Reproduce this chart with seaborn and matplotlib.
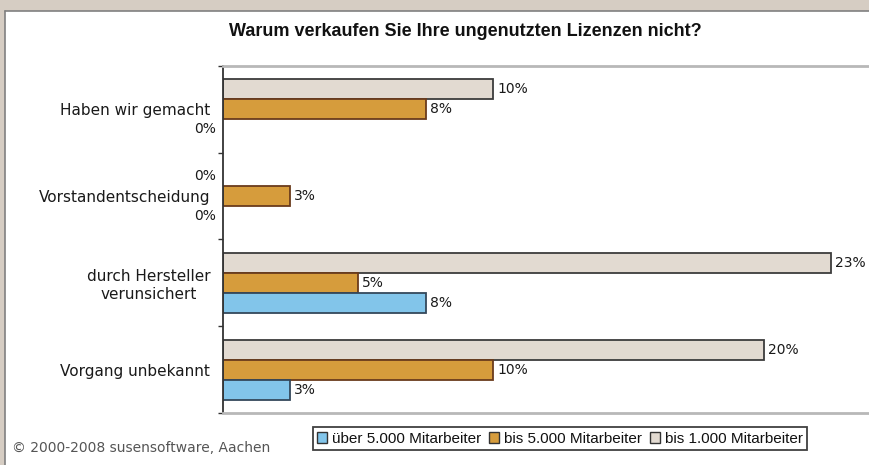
import matplotlib
matplotlib.use("Agg")
import matplotlib.pyplot as plt
from matplotlib.patches import Rectangle, Patch
from matplotlib.lines import Line2D
import seaborn as sns
import pandas as pd

title = "Warum verkaufen Sie Ihre ungenutzten Lizenzen nicht?"
categories = ["Haben wir gemacht", "Vorstandentscheidung",
              "durch Hersteller\nverunsichert", "Vorgang unbekannt"]
series = ["bis 1.000 Mitarbeiter", "bis 5.000 Mitarbeiter", "über 5.000 Mitarbeiter"]
vals_1000 = [10.17, 0.0, 22.88, 20.34]
vals_5000 = [7.63, 2.54, 5.08, 10.17]
vals_ueber = [0.0, 0.0, 7.63, 2.54]
legend_order = ["über 5.000 Mitarbeiter", "bis 5.000 Mitarbeiter", "bis 1.000 Mitarbeiter"]
copyright_text = "© 2000-2008 susensoftware, Aachen"

face = {"bis 1.000 Mitarbeiter": "#e2dad1",
        "bis 5.000 Mitarbeiter": "#d69c3c",
        "über 5.000 Mitarbeiter": "#82c5ea"}
edge = {"bis 1.000 Mitarbeiter": "#3c3c3c",
        "bis 5.000 Mitarbeiter": "#6a3b1c",
        "über 5.000 Mitarbeiter": "#34485a"}

rows = []
for s, vals in zip(series, [vals_1000, vals_5000, vals_ueber]):
    for c, v in zip(categories, vals):
        rows.append({"Kategorie": c, "Serie": s, "Wert": v})
df = pd.DataFrame(rows)

sns.set_theme(style="white")
plt.rcParams["font.family"] = ["DejaVu Sans"]

W, H = 869, 465
fig = plt.figure(figsize=(W / 100, H / 100), dpi=100)
fig.patch.set_facecolor("#d6cdc3")
# white panel
fig.patches.append(Rectangle((4.5 / W, 0), 1, (H - 11.5) / H, transform=fig.transFigure,
                             facecolor="white", edgecolor="none", zorder=-10))
fig.lines.append(Line2D([4.5 / W, 4.5 / W], [0, (H - 11.5) / H], transform=fig.transFigure,
                        color="#808080", lw=1.2, zorder=-5))
fig.lines.append(Line2D([4.5 / W, 1], [(H - 11.5) / H, (H - 11.5) / H], transform=fig.transFigure,
                        color="#808080", lw=1.2, zorder=-5))

ax = fig.add_axes([222.7 / W, 52 / H, (W - 222.7) / W, 347 / H])
ax.set_facecolor("none")
ax.set_zorder(2)

sns.barplot(data=df, y="Kategorie", x="Wert", hue="Serie", hue_order=series,
            order=categories, palette=face, orient="h", width=0.69,
            linewidth=1.3, legend=False, ax=ax, errorbar=None, saturation=1)

for cont, s in zip(ax.containers, series):
    for bar in cont:
        bar.set_edgecolor(edge[s])
        w = bar.get_width()
        yc = bar.get_y() + bar.get_height() / 2
        if w <= 0:
            bar.set_visible(False)
            ax.annotate("0%", xy=(0, yc), xytext=(-5, 0), textcoords="offset points",
                        ha="right", va="center", fontsize=10, color="#1a1a1a",
                        annotation_clip=False)
        else:
            ax.annotate(f"{round(w):d}%", xy=(w, yc), xytext=(3, 0), textcoords="offset points",
                        ha="left", va="center", fontsize=10, color="#1a1a1a",
                        annotation_clip=False)

ax.set_xlim(0, (W - 222.7) / 26.6)
ax.set_ylim(3.5, -0.5)
ax.set_xlabel("")
ax.set_ylabel("")
ax.set_xticks([])
ax.set_yticks(range(len(categories)))
ax.set_yticklabels(categories, fontsize=11, color="#1a1a1a", ha="right", multialignment="center")
ax.tick_params(axis="y", which="major", length=0, pad=9)
ax.set_yticks([-0.5, 0.5, 1.5, 2.5, 3.5], minor=True)
ax.tick_params(axis="y", which="minor", length=3.5, width=1, color="#333333", left=True)

for side in ["top", "bottom"]:
    ax.spines[side].set_visible(True)
    ax.spines[side].set_color("#b8b8b8")
    ax.spines[side].set_linewidth(2)
ax.spines["right"].set_visible(False)
ax.spines["left"].set_color("#333333")
ax.spines["left"].set_linewidth(1.3)

fig.text(465 / W, 1 - 31 / H, title, ha="center", va="center", fontsize=13,
         fontweight="bold", family=["Liberation Sans", "DejaVu Sans"], color="#111111")

fig.text(12 / W, 1 - 448 / H, copyright_text, ha="left", va="center", fontsize=10,
         color="#555555")

handles = [Patch(facecolor=face[s], edgecolor="#333333", linewidth=1) for s in legend_order]
leg = fig.legend(handles, legend_order, loc="center", bbox_to_anchor=(560 / W, 1 - 438.5 / H),
                 ncol=3, frameon=True, fancybox=False, edgecolor="#111111",
                 prop={"family": ["Liberation Sans", "DejaVu Sans"], "size": 11},
                 handlelength=0.65, handleheight=0.75, handletextpad=0.3,
                 columnspacing=0.55, borderpad=0.3, borderaxespad=0)
leg.get_frame().set_linewidth(1.3)
for t in leg.get_texts():
    t.set_color("#111111")

fig.savefig("out.png", dpi=100, facecolor=fig.get_facecolor())
